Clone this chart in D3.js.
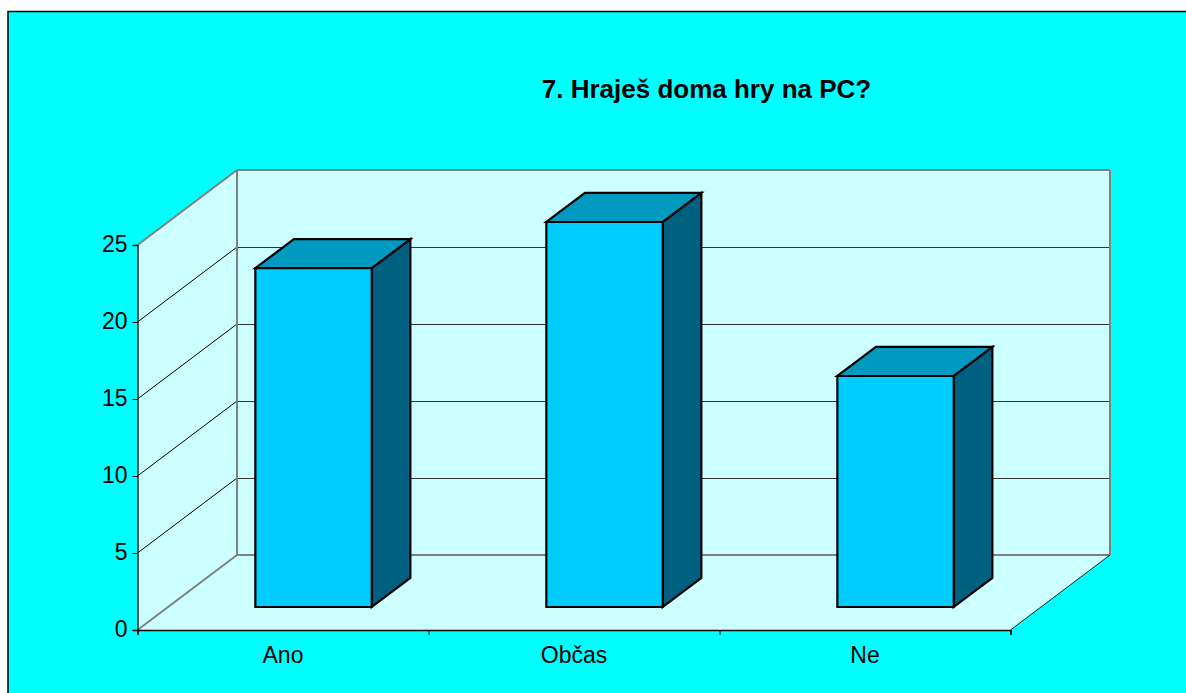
<!DOCTYPE html>
<html><head><meta charset="utf-8">
<script src="https://cdn.jsdelivr.net/npm/d3@7"></script>
<style>html,body{margin:0;padding:0;background:#fff}svg{display:block}text{font-family:"Liberation Sans",Arial,sans-serif;fill:#000}</style>
</head><body><script>
const categories = ["Ano", "Občas", "Ne"];
const values = [22, 25, 15];
const yTicks = [0, 5, 10, 15, 20, 25];
const titleText = "7. Hraješ doma hry na PC?";

const W = 1186, H = 693;
const svg = d3.select("body").append("svg").attr("width", W).attr("height", H);
const x = d3.scaleBand().domain(categories).range([137.5, 1010.5]).paddingInner(0.6).paddingOuter(0.3);
const y = d3.scaleLinear().domain([0, 25]).range([630, 245]);
const dX = d3.scaleLinear().domain([0, 1]).range([0, 99.5]);
const dY = d3.scaleLinear().domain([0, 1]).range([0, -75]);
const pt = (px, v, d) => [px + dX(d), y(v) + dY(d)];
const poly = pts => "M" + pts.map(p => p.join(",")).join("L") + "Z";
const [L, R] = x.range();

svg.append("rect").attr("x", 8).attr("y", 11.5).attr("width", W).attr("height", H)
  .attr("fill", "#00ffff").attr("stroke", "#000").attr("stroke-width", 1.5);

// walls and floor
const wall = svg.append("g").attr("fill", "#ccffff").attr("stroke", "none");
wall.append("path").attr("d", poly([pt(L,0,0), pt(L,25,0), pt(L,25,1), pt(L,0,1)]));
wall.append("path").attr("d", poly([pt(L,0,1), pt(L,25,1), pt(R,25,1), pt(R,0,1)]));
wall.append("path").attr("d", poly([pt(L,0,0), pt(L,0,1), pt(R,0,1), pt(R,0,0)]));

// gridlines
const grid = svg.append("g").attr("fill", "none");
yTicks.slice(1, -1).forEach(t => {
  grid.append("path").attr("d", d3.line()([pt(L,t,0), pt(L,t,1)])).attr("stroke", "#000").attr("stroke-width", 1);
});
yTicks.slice(1, -1).forEach(t => {
  grid.append("path").attr("d", d3.line()([pt(L,t,1), pt(R,t,1)])).attr("stroke", "#333").attr("stroke-width", 1).attr("shape-rendering", "crispEdges");
});
const frame = [[pt(L,25,0), pt(L,25,1)], [pt(L,25,1), pt(R,25,1)], [pt(L,0,0), pt(L,0,1)], [pt(L,0,1), pt(L,25,1)], [pt(L,0,1), pt(R,0,1)], [pt(R,0,1), pt(R,25,1)]];
frame.forEach(s => grid.append("path").attr("d", d3.line()(s)).attr("stroke", "#808080").attr("stroke-width", 2));
grid.append("path").attr("d", d3.line()([pt(R,0,0), pt(R,0,1)])).attr("stroke", "#222").attr("stroke-width", 1);

// axes
const yAxis = d3.axisLeft(y).tickValues(yTicks).tickSize(5).tickPadding(5);
const gy = svg.append("g").attr("transform", `translate(${L},0)`).call(yAxis);
const tickX = d3.scaleLinear().domain([0, categories.length]).range([L, R]);
const gx = svg.append("g").attr("transform", "translate(0,630)")
  .call(d3.axisBottom(tickX).tickValues(d3.range(categories.length + 1)).tickSize(5).tickFormat(""));
[gy, gx].forEach(g => { g.selectAll("path.domain").attr("stroke", "#000").attr("stroke-width", 1.3); g.selectAll("line").attr("stroke", "#000"); });
gy.selectAll("text").attr("font-size", 23).attr("dy", "0.27em").style("font-family", '"Liberation Sans",Arial,sans-serif');
svg.append("g").selectAll("text").data(categories).join("text")
  .attr("x", d => x(d) + x.bandwidth() / 2).attr("y", 663).attr("text-anchor", "middle")
  .attr("font-size", 23).text(d => d);

// bars
const d0 = 0.307, d1 = 0.695;
const bars = svg.append("g").attr("stroke", "#000").attr("stroke-width", 2.2).attr("stroke-linejoin", "miter");
categories.forEach((c, i) => {
  const a = x(c), b = a + x.bandwidth(), v = values[i];
  bars.append("path").attr("fill", "#006080").attr("d", poly([pt(b,0,d0), pt(b,0,d1), pt(b,v,d1), pt(b,v,d0)]));
  bars.append("path").attr("fill", "#0099bf").attr("d", poly([pt(a,v,d0), pt(a,v,d1), pt(b,v,d1), pt(b,v,d0)]));
  bars.append("path").attr("fill", "#00ccff").attr("d", poly([pt(a,0,d0), pt(a,v,d0), pt(b,v,d0), pt(b,0,d0)]));
});

svg.append("text").attr("x", 706.5).attr("y", 98).attr("text-anchor", "middle")
  .attr("font-size", 26).attr("font-weight", "bold").text(titleText);
</script></body></html>
